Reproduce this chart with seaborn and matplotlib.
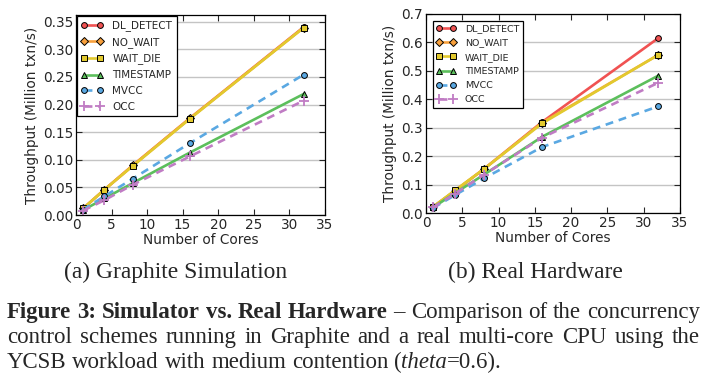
import pandas as pd
import matplotlib
matplotlib.use("Agg")
import matplotlib.pyplot as plt
import matplotlib.ticker as ticker
import seaborn as sns

# data
cores = [1, 4, 8, 16, 32]
schemes = ["DL_DETECT", "NO_WAIT", "WAIT_DIE", "TIMESTAMP", "MVCC", "OCC"]

# (a) Graphite simulation
sim_dl_detect = [0.012, 0.046, 0.090, 0.175, 0.340]
sim_no_wait = [0.012, 0.046, 0.090, 0.175, 0.339]
sim_wait_die = [0.012, 0.046, 0.089, 0.174, 0.339]
sim_timestamp = [0.009, 0.030, 0.058, 0.113, 0.219]
sim_mvcc = [0.010, 0.034, 0.066, 0.130, 0.254]
sim_occ = [0.008, 0.027, 0.055, 0.106, 0.207]

# (b) real hardware
hw_dl_detect = [0.022, 0.078, 0.155, 0.320, 0.615]
hw_no_wait = [0.022, 0.078, 0.155, 0.318, 0.556]
hw_wait_die = [0.022, 0.080, 0.155, 0.315, 0.556]
hw_timestamp = [0.020, 0.070, 0.135, 0.268, 0.483]
hw_mvcc = [0.018, 0.063, 0.122, 0.232, 0.375]
hw_occ = [0.020, 0.068, 0.135, 0.265, 0.458]

sim_yticks = [0.00, 0.05, 0.10, 0.15, 0.20, 0.25, 0.30, 0.35]
hw_yticks = [0.0, 0.1, 0.2, 0.3, 0.4, 0.5, 0.6, 0.7]
xticks = [0, 5, 10, 15, 20, 25, 30, 35]

colors = {
    "DL_DETECT": "#f05252",
    "NO_WAIT": "#f8a03c",
    "WAIT_DIE": "#e2c92e",
    "TIMESTAMP": "#5cbf5c",
    "MVCC": "#5aa8e2",
    "OCC": "#c07cc4",
}
markers = {"DL_DETECT": "o", "NO_WAIT": "D", "WAIT_DIE": "s",
           "TIMESTAMP": "^", "MVCC": "o", "OCC": "+"}
mec = {"DL_DETECT": "k", "NO_WAIT": "k", "WAIT_DIE": "k",
       "TIMESTAMP": "k", "MVCC": "k", "OCC": None}
msize = {"DL_DETECT": 4.2, "NO_WAIT": 4.2, "WAIT_DIE": 4.6,
         "TIMESTAMP": 4.2, "MVCC": 4.2, "OCC": 7}
lstyle = {"DL_DETECT": "-", "NO_WAIT": "-", "WAIT_DIE": "-",
          "TIMESTAMP": "-", "MVCC": (0, (3, 2.2)), "OCC": (0, (3, 2.2))}


def to_long(series):
    rows = []
    for name, vals in zip(schemes, series):
        for c, v in zip(cores, vals):
            rows.append({"cores": c, "tput": v, "scheme": name})
    return pd.DataFrame(rows)


sim_df = to_long([sim_dl_detect, sim_no_wait, sim_wait_die,
                  sim_timestamp, sim_mvcc, sim_occ])
hw_df = to_long([hw_dl_detect, hw_no_wait, hw_wait_die,
                 hw_timestamp, hw_mvcc, hw_occ])

sns.set_style("ticks")
plt.rcParams["font.family"] = ["DejaVu Sans"]
plt.rcParams["xtick.direction"] = "in"
plt.rcParams["ytick.direction"] = "in"

fig = plt.figure(figsize=(7.07, 3.76), dpi=100)
ax1 = fig.add_axes([0.1075, 0.428, 0.352, 0.532])
ax2 = fig.add_axes([0.6025, 0.4335, 0.3593, 0.5293])


def draw_panel(ax, df, ytop, yticks, fmt, legend_pad, legend_fs):
    for name in schemes:
        sub = df[df["scheme"] == name]
        kw = dict(color=colors[name], marker=markers[name], linestyle=lstyle[name],
                  linewidth=1.9, markersize=msize[name], label=name)
        if mec[name]:
            kw["markeredgecolor"] = mec[name]
            kw["markeredgewidth"] = 0.7
        else:
            kw["markeredgecolor"] = colors[name]
            kw["markeredgewidth"] = 1.3
        sns.lineplot(data=sub, x="cores", y="tput", ax=ax, **kw)
    ax.set_xlim(0, 35)
    ax.set_ylim(0, ytop)
    ax.set_xticks(xticks)
    ax.set_yticks(yticks)
    ax.yaxis.set_major_formatter(ticker.FormatStrFormatter(fmt))
    ax.tick_params(axis="both", which="major", direction="in", length=4,
                   width=0.8, labelsize=9.8, top=True, right=True, pad=2)
    ax.yaxis.grid(True, color="#c4c4c4", linewidth=1.0)
    ax.set_axisbelow(True)
    for s in ax.spines.values():
        s.set_linewidth(0.9)
        s.set_color("black")
    ax.set_xlabel("Number of Cores", fontsize=9.8, labelpad=1)
    ax.set_ylabel("Throughput (Million txn/s)", fontsize=9.8, labelpad=3)
    leg = ax.legend(loc="upper left", numpoints=2, fontsize=legend_fs, frameon=True,
                    fancybox=False, edgecolor="black", framealpha=1,
                    borderaxespad=legend_pad, handlelength=2.1,
                    handletextpad=0.9, labelspacing=0.55, borderpad=0.4)
    leg.get_frame().set_linewidth(0.9)
    return leg


draw_panel(ax1, sim_df, 0.362, sim_yticks, "%.2f", 0.1, 7.5)
draw_panel(ax2, hw_df, 0.7, hw_yticks, "%.1f", 0.7, 6.8)

# captions
serif = ["Liberation Serif", "DejaVu Serif"]
W, H = 707, 376
fs_sub = 16.9
fs = 16.5


def px(x, y):
    return x / W, 1 - y / H


fig.text(*px(176, 278), "(a) Graphite Simulation", fontsize=fs_sub, family=serif,
         ha="center", va="baseline")
fig.text(*px(535, 278), "(b) Real Hardware", fontsize=fs_sub, family=serif,
         ha="center", va="baseline")

renderer = fig.canvas.get_renderer()


def measure(txt, weight="normal", style="normal"):
    t = fig.text(0, 0, txt, fontsize=fs, family=serif, weight=weight, style=style)
    w = t.get_window_extent(renderer).width
    t.remove()
    return w


def place_line(words, y, x0=7, x1=700, justify=True):
    # words: list of lists of (text, weight, style) pieces
    widths = [sum(measure(p[0], p[1], p[2]) for p in w) for w in words]
    if justify:
        gap = (x1 - x0 - sum(widths)) / (len(words) - 1)
    else:
        gap = measure("a b") - measure("ab")
    x = x0
    for w, wd in zip(words, widths):
        xx = x
        for p in w:
            fig.text(*px(xx, y), p[0], fontsize=fs, family=serif, weight=p[1],
                     style=p[2], ha="left", va="baseline")
            xx += measure(p[0], p[1], p[2])
        x += wd + gap


def words_of(text, weight="normal", style="normal"):
    return [[(w, weight, style)] for w in text.split()]


line1 = words_of("Figure 3: Simulator vs. Real Hardware", "bold") + \
    words_of("– Comparison of the concurrency")
line2 = words_of("control schemes running in Graphite and a real multi-core CPU using the")
line3 = words_of("YCSB workload with medium contention") + \
    [[("(", "normal", "normal"), ("theta", "normal", "italic"), ("=0.6).", "normal", "normal")]]

place_line(line1, 318)
place_line(line2, 343)
place_line(line3, 368, justify=False)

fig.savefig("out.png", dpi=100)
